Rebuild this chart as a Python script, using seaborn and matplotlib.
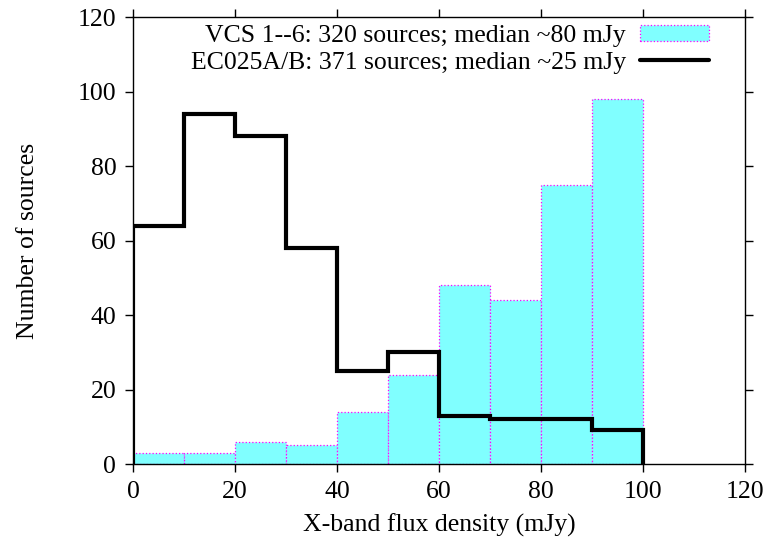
import numpy as np
import matplotlib
matplotlib.use("Agg")
import matplotlib.pyplot as plt
import seaborn as sns
from matplotlib.patches import Patch
from matplotlib.lines import Line2D

# bin edges in mJy
edges = [0, 10, 20, 30, 40, 50, 60, 70, 80, 90, 100]
centers = [5, 15, 25, 35, 45, 55, 65, 75, 85, 95]
vcs_counts = [3, 3, 6, 5, 14, 24, 48, 44, 75, 98]
ec_counts = [64, 94, 88, 58, 25, 30, 13, 12, 12, 9]

vcs_label = "VCS 1--6: 320 sources; median ~80 mJy"
ec_label = "EC025A/B: 371 sources; median ~25 mJy"

sns.set_style("ticks")
plt.rcParams["font.family"] = ["Liberation Serif", "DejaVu Serif"]
plt.rcParams["font.size"] = 18.5
for k in ["text.color", "axes.labelcolor", "xtick.color", "ytick.color"]:
    plt.rcParams[k] = "black"

fig = plt.figure(figsize=(7.7, 5.52), dpi=100)
ax = fig.add_axes([0.1727, 0.1594, 0.7948, 0.8098])

cyan = "#80ffff"
sns.histplot(x=centers, weights=vcs_counts, bins=edges, ax=ax,
             color=cyan, alpha=1, edgecolor="magenta", linewidth=0.9,
             linestyle=":", element="bars")

# EC025A/B outline, dropping to zero at both ends
ax.stairs(ec_counts, edges, baseline=0, color="black", linewidth=3, zorder=3)

ax.set_xlim(0, 120)
ax.set_ylim(0, 120)
ax.set_xticks(range(0, 121, 20))
ax.set_yticks(range(0, 121, 20))
ax.set_xlabel("X-band flux density (mJy)", labelpad=8)
ax.set_ylabel("Number of sources", labelpad=28)
ax.tick_params(direction="out", length=6, width=1, top=True, right=True,
               labelsize=18.5, pad=6)
for s in ax.spines.values():
    s.set_visible(True)
    s.set_linewidth(1)
    s.set_color("black")

handles = [Patch(facecolor=cyan, edgecolor="magenta", linestyle=":", linewidth=0.9),
           Line2D([], [], color="black", linewidth=3)]
ax.legend(handles, [vcs_label, ec_label], loc="upper right", frameon=False,
          markerfirst=False, handlelength=2.7, handleheight=0.55,
          labelspacing=0.17, borderaxespad=0.0, handletextpad=0.55,
          borderpad=0.32, bbox_to_anchor=(0.955, 1.0))

fig.savefig("out.png", dpi=100)
